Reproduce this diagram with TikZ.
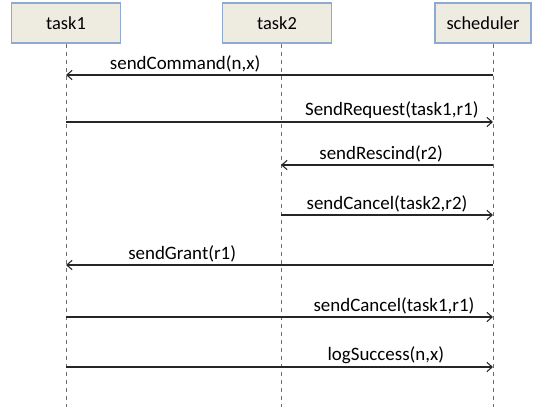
\documentclass[tikz,border=0pt]{standalone}
\usepackage{fontspec}
\setmainfont{Carlito}
\usepackage{tikz}
\usetikzlibrary{arrows.meta}
\definecolor{boxfill}{HTML}{EEECE1}
\definecolor{boxline}{HTML}{8EAAD0}
\definecolor{msg}{HTML}{262626}
\definecolor{life}{HTML}{6E6E6E}
\tikzset{
  actor/.style={draw=boxline, fill=boxfill, line width=0.8pt, minimum height=30pt, font=\fontsize{13.8}{15}\selectfont, text=black},
  lifeline/.style={draw=life, dashed, line width=0.6pt},
  call/.style={draw=msg, line width=0.8pt, -{Straight Barb[length=4pt,width=7pt]}},
  lab/.style={text=black, font=\fontsize{14.2}{16}\selectfont, above, inner sep=2pt},
}

\begin{document}
\begin{tikzpicture}[x=0.75pt,y=-0.75pt]
  \useasboundingbox (0,0) rectangle (536,407);

  % participants
  \node[actor, minimum width=82pt] (task1) at (66,23) {task1};
  \node[actor, minimum width=82pt] (task2) at (277,23) {task2};
  \node[actor, minimum width=72pt] (sched) at (483,23) {scheduler};

  % lifeline ends
  \coordinate (end) at (0,407);
  \draw[lifeline] (task1.south) -- (task1.south |- end);
  \draw[lifeline] ([xshift=3pt]task2.south) -- ([xshift=3pt]task2.south |- end);
  \draw[lifeline] ([xshift=7.5pt]sched.south) -- ([xshift=7.5pt]sched.south |- end);

  \coordinate (l1) at (66,0);
  \coordinate (l2) at (281,0);
  \coordinate (l3) at (493,0);

  % message rows
  \coordinate (m1) at (0,75);
  \coordinate (m2) at (0,122);
  \coordinate (m3) at (0,165);
  \coordinate (m4) at (0,215);
  \coordinate (m5) at (0,265);
  \coordinate (m6) at (0,317);
  \coordinate (m7) at (0,367);

  \draw[call] (l3 |- m1) -- node[lab, pos=0.721] {sendCommand(n,x)} (l1 |- m1);
  \draw[call] (l1 |- m2) -- node[lab, pos=0.763] {SendRequest(task1,r1)} (l3 |- m2);
  \draw[call] (l3 |- m3) -- node[lab, pos=0.528] {sendRescind(r2)} (l2 |- m3);
  \draw[call] (l2 |- m4) -- node[lab, pos=0.5] {sendCancel(task2,r2)} (l3 |- m4);
  \draw[call] (l3 |- m5) -- node[lab, pos=0.728] {sendGrant(r1)} (l1 |- m5);
  \draw[call] (l1 |- m6) -- node[lab, pos=0.768] {sendCancel(task1,r1)} (l3 |- m6);
  \draw[call] (l1 |- m7) -- node[lab, pos=0.749] {logSuccess(n,x)} (l3 |- m7);
\end{tikzpicture}
\end{document}
